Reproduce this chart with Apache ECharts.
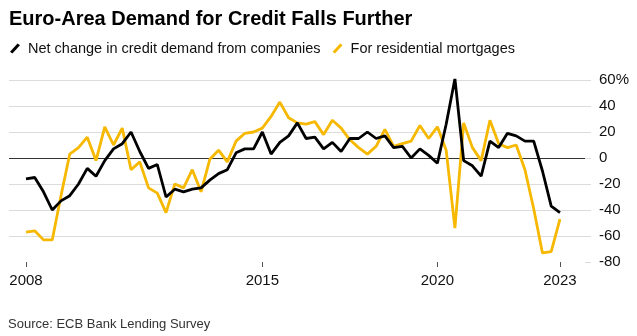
<!DOCTYPE html>
<html>
<head>
<meta charset="utf-8">
<script src="https://cdn.jsdelivr.net/npm/echarts@6/dist/echarts.min.js"></script>
<style>
html,body{margin:0;padding:0;background:#fff;}
#chart{width:637px;height:336px;}
</style>
</head>
<body>
<div id="chart"></div>
<script>
const quarters = [
  '2008Q1','2008Q2','2008Q3','2008Q4','2009Q1','2009Q2','2009Q3','2009Q4',
  '2010Q1','2010Q2','2010Q3','2010Q4','2011Q1','2011Q2','2011Q3','2011Q4',
  '2012Q1','2012Q2','2012Q3','2012Q4','2013Q1','2013Q2','2013Q3','2013Q4',
  '2014Q1','2014Q2','2014Q3','2014Q4','2015Q1','2015Q2','2015Q3','2015Q4',
  '2016Q1','2016Q2','2016Q3','2016Q4','2017Q1','2017Q2','2017Q3','2017Q4',
  '2018Q1','2018Q2','2018Q3','2018Q4','2019Q1','2019Q2','2019Q3','2019Q4',
  '2020Q1','2020Q2','2020Q3','2020Q4','2021Q1','2021Q2','2021Q3','2021Q4',
  '2022Q1','2022Q2','2022Q3','2022Q4','2023Q1','2023Q2'
];
const companies = [
  -16, -15, -26, -40, -33, -29, -20, -8,
  -14, -2, 7, 11, 20, 5, -8, -5,
  -30, -24, -26, -24, -23, -17, -12, -9,
  4, 7, 7, 20, 3, 12, 17, 27,
  15, 16, 7, 12, 5, 15, 15, 20,
  15, 17, 8, 9, 0, 7, 2, -4,
  26, 61, -2, -6, -14, 13, 8, 19,
  17, 13, 13, -10, -37, -42
];
const mortgages = [
  -57, -56, -63, -63, -29, 3, 8, 16,
  -2, 24, 10, 23, -9, -3, -23, -27,
  -42, -20, -23, -9, -26, -1, 6, -3,
  13, 19, 20, 23, 32, 43, 31, 27,
  26, 28, 18, 29, 23, 14, 8, 3,
  9, 22, 9, 11, 13, 25, 15, 24,
  6, -54, 27, 8, -2, 29, 11, 8,
  10, -9, -39, -73, -72, -47
];
const seriesNames = ['Net change in credit demand from companies', 'For residential mortgages'];
const tickYears = ['2008', '2015', '2020', '2023'];
const tickQuarters = ['2008Q1', '2014Q4', '2019Q4', '2023Q2'];
const yTicks = [-80, -60, -40, -20, 0, 20, 40, 60];

const tickPos = tickQuarters.map(q => quarters.indexOf(q));
const labelFor = {};
tickPos.forEach((p, k) => { labelFor[p] = tickYears[k]; });

const splitColors = yTicks.map(v => v === -80 ? 'rgba(0,0,0,0)' : (v === 0 ? '#333333' : '#dcdcdc'));

const slash = 'path://M0,8.3 L7.6,0 L10,1.7 L2.4,10 Z';
const FONT = 'Liberation Sans, Arial, sans-serif';

const chart = echarts.init(document.getElementById('chart'), null, {renderer: 'canvas'});
chart.setOption({
  animation: false,
  backgroundColor: '#ffffff',
  textStyle: {fontFamily: FONT},
  title: {
    text: 'Euro-Area Demand for Credit Falls Further',
    left: 4, top: 4,
    textStyle: {fontSize: 20, fontWeight: 'bold', color: '#000', fontFamily: FONT}
  },
  legend: {
    left: 5, top: 36,
    itemWidth: 10, itemHeight: 10, itemGap: 12,
    icon: slash,
    textStyle: {fontSize: 14.5, color: '#111', padding: [0, 0, 0, 3]},
    data: seriesNames
  },
  graphic: [{
    type: 'text', left: 8, top: 318,
    style: {text: 'Source: ECB Bank Lending Survey', fontSize: 13, fill: '#333', fontFamily: FONT}
  }],
  grid: {left: 9, right: 52, top: 80, bottom: 74, containLabel: false},
  xAxis: {
    type: 'value',
    min: -1.94, max: 63.86,
    splitLine: {show: false},
    axisLine: {show: false, onZero: false},
    axisTick: {show: true, customValues: tickPos, length: 5, lineStyle: {color: '#555', width: 1}},
    axisLabel: {show: true, customValues: tickPos, margin: 11, fontSize: 15, color: '#111',
      formatter: v => labelFor[Math.round(v)] || ''}
  },
  yAxis: {
    type: 'value', position: 'right',
    min: -80, max: 60, interval: 20,
    axisLine: {show: false, onZero: false},
    axisTick: {show: true, length: 6, lineStyle: {color: '#dcdcdc'}},
    splitLine: {show: true, lineStyle: {color: splitColors, width: 1}},
    axisLabel: {margin: 14, fontSize: 15, color: '#111', formatter: v => v === 60 ? '60%' : String(v)}
  },
  series: [
    {
      name: seriesNames[0], type: 'line', symbol: 'none', z: 3,
      color: '#000000',
      lineStyle: {width: 2.8, color: '#000000'},
      data: companies.map((v, i) => [i, v])
    },
    {
      name: seriesNames[1], type: 'line', symbol: 'none', z: 2,
      color: '#f6b800',
      lineStyle: {width: 2.8, color: '#f6b800'},
      data: mortgages.map((v, i) => [i, v])
    }
  ]
});
</script>
</body>
</html>
